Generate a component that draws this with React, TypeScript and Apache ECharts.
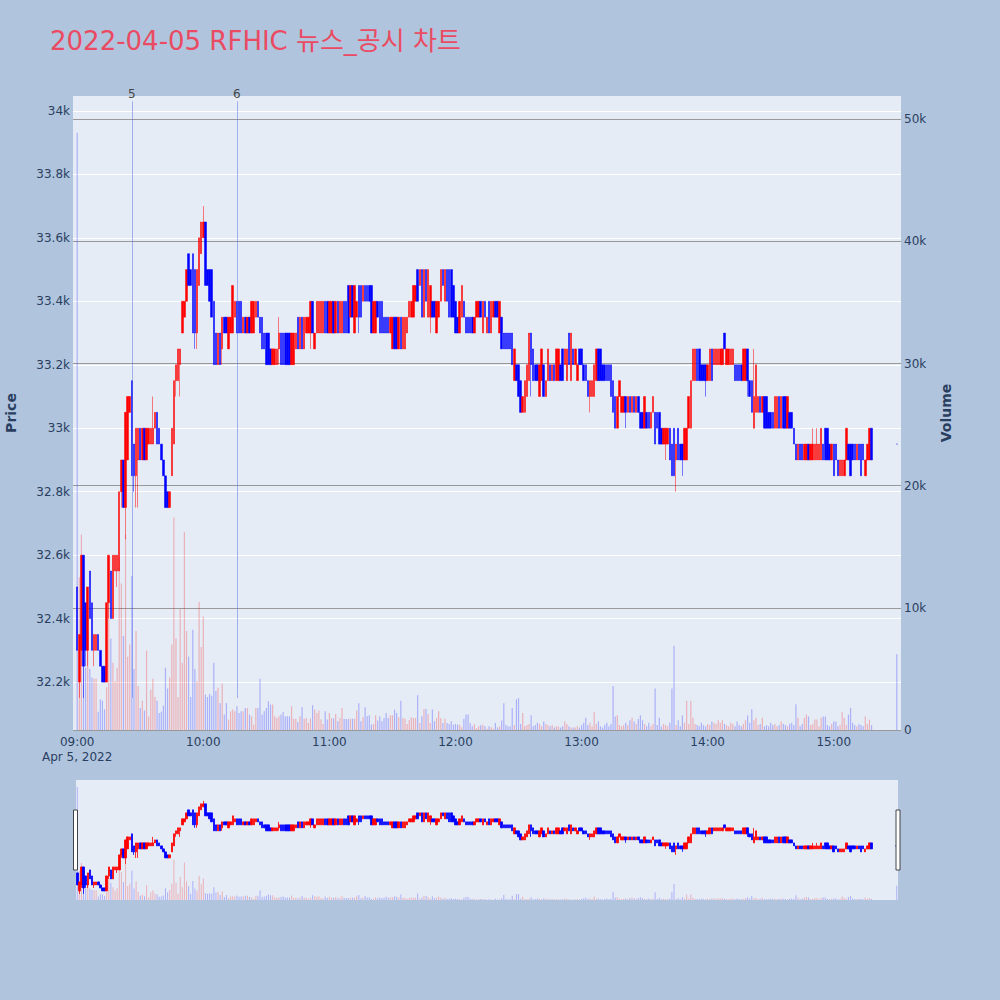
import { useEffect, useRef } from 'react';
import * as echarts from 'echarts';

const TITLE = '2022-04-05 RFHIC 뉴스_공시 차트';

// Minute candles, [open, close, low, high]; index within each hour = minute.
const c09 = [
  [32500,32300,32300,32500],[32200,32350,32150,32350],[32300,32600,32250,32600],[32600,32250,32150,32600],
  [32450,32300,32250,32450],[32300,32500,32250,32500],[32550,32400,32400,32550],[32450,32300,32300,32450],
  [32300,32350,32250,32350],[32300,32350,32300,32350],[32350,32300,32300,32350],[32300,32250,32250,32300],
  [32250,32200,32200,32250],[32250,32200,32200,32250],[32200,32450,32200,32450],[32450,32600,32400,32600],
  [32550,32400,32400,32550],[32400,32600,32400,32600],[32550,32600,32550,32600],[32550,32600,32500,32600],
  [32550,32800,32550,32800],[32800,32900,32750,32900],[32900,32750,32750,32900],[32750,33050,32650,33050],
  [32900,33100,32900,33100],[33050,33100,33050,33100],[33150,32850,32850,33150],[32950,32850,32800,32950],
  [32850,33000,32750,33000],[32900,33000,32750,33000],[33000,32900,32900,33000],[32900,33000,32900,33000],
  [33000,32900,32900,33000],[32900,33000,32900,33000],[32950,33000,32950,33000],[32950,33000,32950,33000],
  [32950,33000,32950,33100],[33000,33050,33000,33050],[33050,32950,32950,33050],[33000,32950,32950,33000],
  [32950,32900,32900,32950],[32900,32850,32850,32900],[32850,32750,32750,32850],[32800,32750,32750,32800],
  [32750,32800,32750,32800],[32850,33000,32850,33000],[32950,33150,32950,33150],[33150,33200,33100,33200],
  [33150,33250,33150,33250],[33200,33250,33100,33250],[33300,33400,33300,33400],[33350,33400,33350,33400],
  [33400,33500,33400,33500],[33550,33450,33450,33550],[33500,33450,33450,33500],[33550,33300,33300,33550],
  [33500,33300,33250,33500],[33300,33500,33250,33500],[33450,33600,33450,33600],[33550,33650,33550,33650],
];
const c10 = [
  [33600,33650,33600,33700],[33650,33450,33450,33650],[33500,33450,33450,33500],[33500,33400,33400,33500],
  [33500,33350,33350,33500],[33400,33200,33200,33400],[33300,33200,33200,33300],[33200,33300,33200,33300],
  [33300,33200,33200,33300],[33250,33350,33200,33350],[33350,33300,33300,33350],[33350,33300,33300,33350],
  [33250,33350,33250,33350],[33300,33350,33300,33350],[33300,33450,33300,33450],[33350,33400,33350,33400],
  [33400,33300,33300,33400],[33400,33300,33300,33400],[33400,33300,33300,33400],[33300,33350,33300,33350],
  [33350,33300,33300,33350],[33300,33350,33300,33350],[33350,33300,33300,33350],[33300,33400,33300,33400],
  [33300,33400,33300,33400],[33350,33400,33350,33400],[33400,33350,33350,33400],[33350,33300,33300,33350],
  [33350,33250,33250,33350],[33300,33250,33250,33300],[33300,33200,33200,33300],[33300,33200,33200,33300],
  [33250,33200,33200,33250],[33200,33250,33200,33250],[33200,33250,33200,33250],[33200,33250,33200,33250],
  [33250,33300,33200,33350],[33300,33200,33200,33300],[33300,33200,33200,33300],[33300,33200,33200,33300],
  [33300,33200,33200,33300],[33300,33200,33200,33300],[33200,33300,33200,33300],[33200,33300,33200,33300],
  [33250,33300,33250,33300],[33350,33250,33250,33350],[33250,33350,33250,33350],[33350,33250,33250,33350],
  [33250,33350,33250,33350],[33300,33350,33300,33350],[33300,33350,33300,33350],[33300,33400,33250,33400],
  [33400,33300,33300,33400],[33250,33300,33250,33300],[33300,33400,33300,33400],[33300,33400,33300,33400],
  [33300,33400,33300,33400],[33300,33400,33300,33400],[33400,33300,33300,33400],[33400,33300,33300,33400],
];
const c11 = [
  [33300,33400,33300,33400],[33300,33400,33300,33400],[33400,33300,33300,33400],[33300,33400,33300,33400],
  [33400,33300,33300,33400],[33300,33400,33300,33400],[33300,33400,33300,33400],[33400,33300,33300,33400],
  [33400,33300,33300,33400],[33450,33300,33300,33450],[33350,33450,33350,33450],[33450,33350,33350,33450],
  [33300,33450,33300,33450],[33350,33400,33350,33400],[33450,33350,33300,33450],[33450,33350,33350,33450],
  [33400,33450,33400,33450],[33450,33400,33400,33450],[33450,33400,33400,33450],[33450,33400,33400,33450],
  [33450,33300,33300,33450],[33300,33400,33300,33400],[33300,33400,33300,33400],[33400,33350,33350,33400],
  [33400,33300,33300,33400],[33400,33300,33300,33400],[33350,33300,33300,33350],[33350,33300,33300,33350],
  [33350,33300,33300,33350],[33300,33350,33300,33350],[33250,33350,33250,33350],[33350,33250,33250,33350],
  [33350,33250,33250,33350],[33250,33350,33250,33350],[33350,33250,33250,33350],[33250,33350,33250,33350],
  [33250,33350,33250,33350],[33300,33350,33300,33350],[33350,33400,33350,33400],[33350,33400,33350,33400],
  [33350,33450,33350,33450],[33400,33450,33400,33450],[33500,33400,33400,33500],[33450,33500,33450,33500],
  [33500,33350,33350,33500],[33350,33500,33350,33500],[33500,33400,33400,33500],[33350,33500,33350,33500],
  [33350,33450,33300,33450],[33400,33350,33350,33400],[33400,33350,33350,33400],[33300,33400,33300,33400],
  [33350,33400,33350,33400],[33400,33500,33400,33500],[33500,33450,33450,33500],[33400,33500,33400,33500],
  [33500,33400,33400,33500],[33500,33350,33350,33500],[33500,33350,33350,33500],[33450,33350,33350,33450],
];
const c12 = [
  [33400,33300,33300,33400],[33350,33300,33300,33350],[33300,33400,33300,33400],[33350,33450,33350,33450],
  [33400,33350,33350,33400],[33350,33300,33300,33350],[33350,33300,33300,33350],[33350,33300,33300,33350],
  [33350,33300,33300,33350],[33300,33350,33300,33350],[33350,33400,33350,33400],[33350,33400,33350,33400],
  [33400,33350,33350,33400],[33300,33400,33300,33400],[33400,33350,33350,33400],[33300,33350,33300,33350],
  [33400,33300,33300,33400],[33300,33400,33300,33400],[33350,33400,33350,33400],[33400,33350,33350,33400],
  [33400,33350,33350,33400],[33300,33400,33300,33400],[33350,33250,33250,33350],[33300,33250,33250,33300],
  [33300,33250,33250,33300],[33300,33250,33250,33300],[33300,33250,33250,33300],[33300,33200,33200,33300],
  [33150,33250,33150,33250],[33200,33150,33150,33200],[33200,33100,33100,33200],[33150,33050,33050,33150],
  [33050,33100,33050,33100],[33050,33150,33050,33150],[33100,33200,33100,33200],[33150,33300,33150,33300],
  [33300,33200,33100,33300],[33250,33150,33150,33250],[33200,33150,33150,33200],[33200,33150,33150,33200],
  [33100,33200,33100,33200],[33150,33250,33150,33250],[33200,33100,33100,33200],[33100,33150,33100,33150],
  [33150,33250,33150,33250],[33200,33150,33150,33200],[33150,33200,33150,33200],[33200,33150,33150,33200],
  [33150,33250,33150,33250],[33150,33250,33150,33250],[33200,33150,33150,33200],[33250,33150,33150,33250],
  [33200,33250,33200,33250],[33150,33250,33150,33250],[33300,33200,33200,33300],[33150,33300,33150,33300],
  [33250,33200,33200,33250],[33200,33250,33200,33250],[33150,33200,33150,33200],[33250,33200,33200,33250],
];
const c13 = [
  [33250,33200,33200,33250],[33200,33150,33150,33200],[33200,33150,33150,33200],[33150,33100,33100,33150],
  [33100,33150,33050,33150],[33100,33150,33100,33150],[33100,33200,33100,33200],[33150,33250,33150,33250],
  [33250,33150,33150,33250],[33250,33150,33150,33250],[33200,33150,33150,33200],[33200,33150,33150,33200],
  [33200,33150,33150,33200],[33200,33150,33150,33200],[33200,33100,33100,33200],[33150,33050,33050,33150],
  [33100,33000,33000,33100],[33000,33100,33000,33100],[33100,33150,33100,33150],[33050,33100,33050,33100],
  [33050,33100,33050,33100],[33100,33050,33000,33100],[33050,33100,33050,33100],[33100,33050,33050,33100],
  [33050,33100,33050,33100],[33100,33050,33050,33100],[33050,33100,33050,33100],[33100,33050,33050,33100],
  [33050,33000,33000,33050],[33050,33000,33000,33050],[33000,33100,33000,33100],[33050,33000,33000,33050],
  [33050,33000,33000,33050],[33000,33050,33000,33050],[33050,33100,33050,33100],[33050,32950,32950,33050],
  [33050,33000,33000,33050],[33050,32950,32950,33050],[33000,32950,32950,33000],[32950,33000,32950,33000],
  [32950,33000,32900,33000],[32950,33000,32950,33000],[33000,32900,32900,33000],[32950,32850,32850,32950],
  [33000,32850,32850,33000],[32900,32950,32800,32950],[33000,32900,32900,33000],[32950,32900,32900,32950],
  [32950,32900,32850,32950],[32900,33000,32900,33000],[32900,33000,32900,33000],[33000,33100,33000,33100],
  [33000,33150,33000,33150],[33150,33250,33150,33250],[33150,33250,33150,33250],[33250,33150,33150,33250],
  [33250,33150,33150,33250],[33200,33150,33150,33200],[33200,33150,33150,33200],[33200,33150,33100,33200],
];
const c14 = [
  [33150,33200,33150,33200],[33150,33250,33150,33250],[33250,33150,33150,33250],[33200,33250,33200,33250],
  [33200,33250,33200,33250],[33200,33250,33200,33250],[33200,33250,33200,33250],[33200,33250,33200,33250],
  [33300,33250,33250,33300],[33200,33250,33200,33250],[33200,33250,33200,33250],[33200,33250,33200,33250],
  [33200,33250,33200,33250],[33200,33150,33150,33200],[33200,33150,33150,33200],[33200,33150,33150,33200],
  [33200,33150,33150,33200],[33150,33250,33150,33250],[33150,33250,33150,33250],[33250,33150,33100,33250],
  [33150,33100,33100,33150],[33150,33050,33050,33150],[33000,33100,33000,33250],[33050,33200,33050,33200],
  [33050,33100,33050,33100],[33100,33050,33050,33100],[33050,33100,33050,33100],[33100,33000,33000,33100],
  [33100,33000,33000,33100],[33050,33000,33000,33050],[33050,33000,33000,33050],[33050,33000,33000,33050],
  [33000,33100,33000,33100],[33000,33100,33000,33100],[33100,33000,33000,33100],[33000,33100,33000,33100],
  [33100,33000,33000,33100],[33100,33000,33000,33100],[33000,33100,33000,33100],[33050,33000,33000,33050],
  [33050,33000,33000,33050],[33000,32950,32950,33000],[32950,32900,32900,32950],[32900,32950,32900,32950],
  [32950,32900,32900,32950],[32950,32900,32900,32950],[32900,32950,32900,32950],[32900,32950,32900,32950],
  [32950,32900,32900,32950],[32900,32950,32900,32950],[32900,32950,32900,33000],[32900,32950,32900,32950],
  [32900,32950,32900,33000],[32900,32950,32900,32950],[32900,33000,32900,33000],[32950,32900,32900,32950],
  [33000,32900,32900,33000],[33000,32900,32900,33000],[32950,32900,32900,32950],[32900,32950,32900,32950],
];
const c15 = [
  [32950,32850,32850,32950],[32950,32900,32900,32950],[32900,32850,32850,32900],[32850,32900,32850,32900],
  [32850,32900,32850,32900],[32850,32900,32850,32900],[32900,33000,32900,33000],[32950,32900,32900,32950],
  [32950,32850,32850,32950],[32950,32900,32900,32950],[32950,32900,32900,32950],[32900,32950,32900,32950],
  [32950,32900,32900,32950],[32950,32850,32850,32950],[32950,32900,32900,32950],[32850,32900,32850,32900],
  [32900,32950,32900,32950],[32900,33000,32900,33000],[33000,32900,32900,33000],
];

// Minute volumes (shares)
const v09 = [48900,12500,16000,13200,5100,7800,5000,4300,4200,4200,1500,2500,2400,1700,3500,14200,7500,5500,4000,5100,
  14200,12000,7700,16000,6000,7000,12600,5000,8100,3600,1800,2400,1600,6500,1100,3300,4200,2700,2400,1400,
  1500,2000,5100,3400,4300,7000,17400,7500,2700,9900,5500,16200,8100,6000,2700,8200,5000,4000,10500,6800];
const v10 = [9300,2900,2700,2950,2800,5500,3200,3450,2200,3800,1260,2200,850,1540,1670,1540,1940,1400,1540,1540,
  1800,1800,1260,1120,440,1800,1800,4200,1260,1540,1800,2350,2080,2080,1120,980,1120,1260,1480,1120,
  1120,1120,1940,930,930,660,1120,1860,930,980,580,930,2030,1670,1400,1590,850,500,1540,850];
const v11 = [1400,980,930,1310,710,980,1800,900,900,900,930,930,930,1590,2200,710,1040,1860,1120,1200,
  440,500,1200,770,1120,710,980,1400,980,1200,1200,1670,1400,1040,2400,980,930,500,820,1040,
  980,980,2850,580,1120,1720,1720,1310,580,1670,710,980,1540,980,580,930,580,500,710,440];
const v12 = [500,440,440,220,930,1260,1260,580,300,500,160,300,380,440,300,110,300,220,110,580,
  220,300,770,2200,440,300,300,1800,400,2500,2600,500,1400,300,400,500,1200,300,400,600,
  500,300,700,500,400,300,400,200,300,300,200,300,700,500,300,200,200,200,300,200];
const v13 = [400,600,1000,400,600,300,1500,500,700,300,200,400,600,300,500,3600,1100,1200,400,300,
  400,600,400,800,1000,700,500,900,1200,800,500,300,600,300,500,3400,400,1000,300,500,
  400,300,600,3400,6900,400,800,300,1200,600,2400,500,2400,1000,500,400,300,600,400,300];
const v14 = [500,400,700,600,500,800,600,800,500,400,300,600,500,300,700,400,300,500,800,1200,
  600,1700,800,1000,400,500,1000,300,400,300,600,400,500,300,400,700,500,400,300,500,
  600,400,2100,1000,300,500,1000,1260,1100,400,500,850,850,300,1000,1100,1100,400,300,500];
const v15 = [700,700,300,400,1500,1000,400,1260,1800,600,400,300,500,400,300,1100,500,850,400];

// Closing auction print at 15:30
const closeAuctionMinute = 390;
const closeAuctionPrice = 32950;
const closeAuctionVolume = 6200;

// News markers (minutes after 09:00)
const newsLabels = ['5', '6'];
const newsMinutes = [26, 76];
const newsLow = 32150;
const newsHigh = 34030;

const priceTicks = [32200, 32400, 32600, 32800, 33000, 33200, 33400, 33600, 33800, 34000];
const volumeTicks = [0, 10000, 20000, 30000, 40000, 50000];
const timeTicks = [0, 60, 120, 180, 240, 300, 360];

const candleHours = [c09, c10, c11, c12, c13, c14, c15];
const volumeHours = [v09, v10, v11, v12, v13, v14, v15];

const RED = '#FF0000';
const BLUE = '#0000FF';
const VOL_UP = 'rgba(255,0,0,0.25)';
const VOL_DOWN = 'rgba(0,0,255,0.25)';
const FONT = '"DejaVu Sans", "Noto Sans CJK KR", sans-serif';
const AXIS_COLOR = '#2a3f5f';

function fmtTime(v: number) {
  const t = 9 * 60 + v;
  const h = Math.floor(t / 60);
  const m = t % 60;
  const s = `${String(h).padStart(2, '0')}:${String(m).padStart(2, '0')}`;
  return v === 0 ? `${s}\nApr 5, 2022` : s;
}

function buildData() {
  const candles: any[] = [];
  const vols: any[] = [];
  candleHours.forEach((hour, hi) => {
    hour.forEach((c, i) => {
      const m = hi * 60 + i;
      candles.push([m, c[0], c[1], c[2], c[3]]);
      const up = c[1] > c[0];
      vols.push({ value: [m, volumeHours[hi][i] ?? 0], itemStyle: { color: up ? VOL_UP : VOL_DOWN } });
    });
  });
  const p = closeAuctionPrice;
  candles.push({
    value: [closeAuctionMinute, p, p, p, p],
    itemStyle: { color: BLUE, color0: BLUE, borderColor: BLUE, borderColor0: BLUE },
  });
  vols.push({ value: [closeAuctionMinute, closeAuctionVolume], itemStyle: { color: VOL_DOWN } });
  return { candles, vols };
}

export default function App() {
  const ref = useRef<HTMLDivElement>(null);
  useEffect(() => {
    if (!ref.current) return;
    const chart = echarts.init(ref.current, null, { renderer: 'svg', width: 1000, height: 1000 });
    const { candles, vols } = buildData();
    const PMIN = 32049;
    const PMAX = 34047;
    const VMAX = 51900;

    const candleStyle = { color: RED, color0: BLUE, borderColor: RED, borderColor0: BLUE, borderWidth: 0.5 };
    const miniCandleStyle = { color: RED, color0: BLUE, borderColor: RED, borderColor0: BLUE, borderWidth: 0.8 };

    chart.setOption({
      animation: false,
      backgroundColor: '#B0C4DE',
      grid: [
        { left: 73, top: 96, width: 828, height: 634, show: true, backgroundColor: '#E5ECF6', borderWidth: 0 },
        { left: 76, top: 780, width: 822, height: 120, show: true, backgroundColor: '#E5ECF6', borderWidth: 0 },
      ],
      xAxis: [
        {
          type: 'value', gridIndex: 0, min: -2, max: 392,
          axisLine: { show: false },
          axisTick: { show: false, customValues: timeTicks },
          splitLine: { show: false },
          axisLabel: {
            customValues: timeTicks, formatter: fmtTime, color: AXIS_COLOR, fontSize: 12,
            fontFamily: FONT, margin: 4, lineHeight: 15,
          },
        },
        { type: 'value', gridIndex: 1, min: -0.6, max: 390.6, show: false, splitLine: { show: false } },
      ],
      yAxis: [
        {
          type: 'value', gridIndex: 0, position: 'left', min: PMIN, max: PMAX, splitNumber: 10,
          axisLine: { show: false },
          axisTick: { show: false, customValues: priceTicks },
          splitLine: { show: true, lineStyle: { color: '#FFFFFF', width: 1 } },
          axisLabel: {
            customValues: priceTicks, formatter: (v: number) => `${+(v / 1000).toFixed(1)}k`,
            color: AXIS_COLOR, fontSize: 12, fontFamily: FONT, margin: 3,
          },
        },
        {
          type: 'value', gridIndex: 0, position: 'right', min: 0, max: VMAX, interval: 10000,
          axisLine: { show: false },
          axisTick: { show: false, customValues: volumeTicks },
          splitLine: { show: true, lineStyle: { color: '#999999', width: 1 } },
          axisLabel: {
            customValues: volumeTicks, formatter: (v: number) => (v === 0 ? '0' : `${v / 1000}k`),
            color: AXIS_COLOR, fontSize: 12, fontFamily: FONT, margin: 3,
          },
        },
        { type: 'value', gridIndex: 1, min: PMIN, max: PMAX, show: false, splitLine: { show: false } },
        { type: 'value', gridIndex: 1, min: 0, max: VMAX, show: false, splitLine: { show: false } },
      ],
      series: [
        {
          type: 'line', xAxisIndex: 0, yAxisIndex: 0, data: [], z: 1, silent: true,
          markLine: {
            silent: true, symbol: ['none', 'none'],
            lineStyle: { color: 'rgba(70,100,230,0.45)', width: 1, type: 'solid' },
            label: {
              show: true, position: 'end', distance: 1, formatter: (p: any) => p.name,
              color: '#444444', fontSize: 12, fontFamily: FONT,
            },
            data: newsMinutes.map((m, i) => [
              { name: newsLabels[i], coord: [m, newsLow] },
              { coord: [m, newsHigh] },
            ]),
          },
        },
        {
          type: 'bar', xAxisIndex: 0, yAxisIndex: 1, barWidth: 1.2, data: vols, z: 2, silent: true,
        },
        {
          type: 'candlestick', xAxisIndex: 0, yAxisIndex: 0, barWidth: 2, data: candles, z: 3,
          itemStyle: candleStyle, silent: true,
        },
        {
          type: 'bar', xAxisIndex: 1, yAxisIndex: 3, barWidth: 1, data: vols, z: 2, silent: true,
        },
        {
          type: 'candlestick', xAxisIndex: 1, yAxisIndex: 2, barWidth: 2, data: candles, z: 3,
          itemStyle: miniCandleStyle, silent: true,
        },
      ],
      graphic: [
        {
          type: 'text', x: 50, y: 41,
          style: { text: TITLE, fill: '#EA4B62', fontSize: 26, fontFamily: FONT, verticalAlign: 'middle' },
        },
        {
          type: 'text', x: 11, y: 413, rotation: Math.PI / 2,
          style: { text: 'Price', fill: AXIS_COLOR, fontSize: 14, fontWeight: 'bold', fontFamily: FONT, align: 'center', verticalAlign: 'middle' },
        },
        {
          type: 'text', x: 946, y: 413, rotation: Math.PI / 2,
          style: { text: 'Volume', fill: AXIS_COLOR, fontSize: 14, fontWeight: 'bold', fontFamily: FONT, align: 'center', verticalAlign: 'middle' },
        },
        {
          type: 'rect', shape: { x: 73.5, y: 810, width: 4, height: 60 },
          style: { fill: '#FFFFFF', stroke: '#444444', lineWidth: 1 }, z: 100,
        },
        {
          type: 'rect', shape: { x: 896, y: 810, width: 4, height: 60 },
          style: { fill: '#FFFFFF', stroke: '#444444', lineWidth: 1 }, z: 100,
        },
      ],
    });
    return () => chart.dispose();
  }, []);
  return <div ref={ref} style={{ position: 'fixed', left: 0, top: 0, width: 1000, height: 1000 }} />;
}
